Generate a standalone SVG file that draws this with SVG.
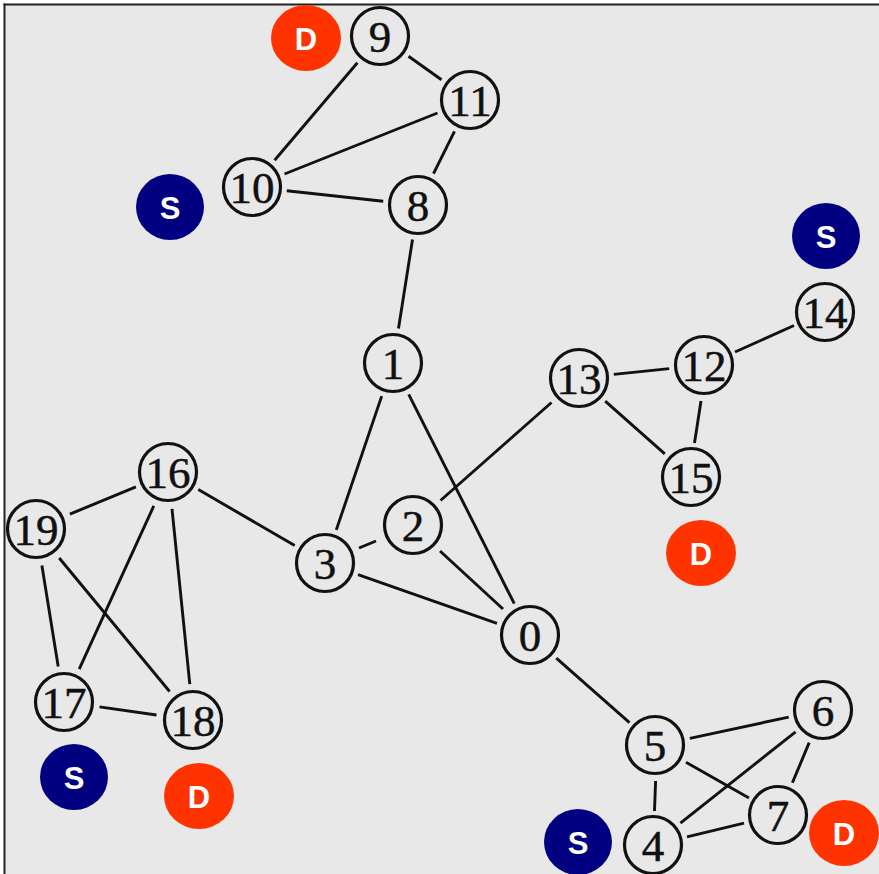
<svg xmlns="http://www.w3.org/2000/svg" width="879" height="874" viewBox="0 0 879 874">
  <style>
    .edge { stroke: #111111; stroke-width: 2.9; stroke-linecap: butt; fill: none; }
    .ring { fill: none; stroke: #111111; stroke-width: 3.2; }
    .num { font-family: "Liberation Serif", "Times New Roman", serif; font-size: 45px; fill: #111111; stroke: #111111; stroke-width: 0.5; text-anchor: middle; }
    .tag { font-family: "Liberation Sans", Arial, sans-serif; font-size: 31px; font-weight: bold; fill: #ffffff; text-anchor: middle; }
    .src { fill: #000080; }
    .dst { fill: #ff3300; }
  </style>

  <!-- canvas -->
  <rect x="0" y="0" width="879" height="874" fill="#ffffff"/>
  <rect x="4" y="4" width="875" height="870" fill="#e8e8e8"/>
  <line x1="3.5" y1="4.5" x2="879" y2="4.5" stroke="#222" stroke-width="2"/>
  <line x1="4.5" y1="3.5" x2="4.5" y2="874" stroke="#222" stroke-width="2"/>

  <!-- links -->
  <g id="edges">
    <line class="edge" x1="408.5" y1="56.3" x2="441.5" y2="79.7"/>
    <line class="edge" x1="357.4" y1="62.7" x2="274.6" y2="160.3"/>
    <line class="edge" x1="284.5" y1="174" x2="437.5" y2="113"/>
    <line class="edge" x1="286.8" y1="190.8" x2="383.2" y2="201.2"/>
    <line class="edge" x1="454.5" y1="131.4" x2="433.5" y2="173.6"/>
    <line class="edge" x1="412.5" y1="239.6" x2="398.5" y2="328.4"/>
    <line class="edge" x1="381.7" y1="396.1" x2="336.3" y2="529.9"/>
    <line class="edge" x1="408.7" y1="394.3" x2="514.3" y2="603.7"/>
    <line class="edge" x1="376" y1="541" x2="359" y2="548"/>
    <line class="edge" x1="440" y1="551" x2="503" y2="609"/>
    <line class="edge" x1="440.5" y1="500.5" x2="551.5" y2="402.5"/>
    <line class="edge" x1="358" y1="574.6" x2="497" y2="623.4"/>
    <line class="edge" x1="294.7" y1="545.5" x2="198.3" y2="489.5"/>
    <line class="edge" x1="613.8" y1="374.4" x2="669.2" y2="368.6"/>
    <line class="edge" x1="605.2" y1="401.2" x2="664.8" y2="453.8"/>
    <line class="edge" x1="701" y1="401" x2="694.5" y2="443"/>
    <line class="edge" x1="735" y1="352" x2="794" y2="325.5"/>
    <line class="edge" x1="135.9" y1="486.9" x2="69.9" y2="514.1"/>
    <line class="edge" x1="153.8" y1="505.9" x2="79.2" y2="669.1"/>
    <line class="edge" x1="172" y1="508.8" x2="189.8" y2="684.2"/>
    <line class="edge" x1="41.9" y1="565.5" x2="58.2" y2="666.5"/>
    <line class="edge" x1="59.2" y1="558" x2="169.6" y2="691.5"/>
    <line class="edge" x1="99.5" y1="706.9" x2="156.5" y2="715"/>
    <line class="edge" x1="556.3" y1="658.1" x2="629.5" y2="722.6"/>
    <line class="edge" x1="689.8" y1="738.4" x2="788.7" y2="717.1"/>
    <line class="edge" x1="686" y1="762.3" x2="749" y2="797.9"/>
    <line class="edge" x1="655.6" y1="781" x2="654.5" y2="811"/>
    <line class="edge" x1="680.4" y1="823.2" x2="795.6" y2="731.8"/>
    <line class="edge" x1="687" y1="836.8" x2="744" y2="823.2"/>
    <line class="edge" x1="809.2" y1="742.6" x2="792.4" y2="782.8"/>
  </g>

  <!-- numbered stations -->
  <g id="n0"><circle class="ring" cx="530" cy="635" r="28.5"/><text class="num" x="530" y="651">0</text></g>
  <g id="n1"><circle class="ring" cx="393" cy="363" r="28.5"/><text class="num" x="393" y="379">1</text></g>
  <g id="n2"><circle class="ring" cx="413" cy="525" r="28.5"/><text class="num" x="413" y="541">2</text></g>
  <g id="n3"><circle class="ring" cx="325" cy="563" r="28.5"/><text class="num" x="325" y="579">3</text></g>
  <g id="n4"><circle class="ring" cx="653" cy="845" r="28.5"/><text class="num" x="653" y="861">4</text></g>
  <g id="n5"><circle class="ring" cx="655" cy="745" r="28.5"/><text class="num" x="655" y="761">5</text></g>
  <g id="n6"><circle class="ring" cx="823" cy="710" r="28.5"/><text class="num" x="823" y="726">6</text></g>
  <g id="n7"><circle class="ring" cx="778" cy="815" r="28.5"/><text class="num" x="778" y="831">7</text></g>
  <g id="n8"><circle class="ring" cx="418" cy="205" r="28.5"/><text class="num" x="418" y="221">8</text></g>
  <g id="n9"><circle class="ring" cx="380" cy="36" r="28.5"/><text class="num" x="380" y="52">9</text></g>
  <g id="n10"><circle class="ring" cx="252" cy="187" r="28.5"/><text class="num" x="252" y="203">10</text></g>
  <g id="n11"><circle class="ring" cx="470" cy="100" r="28.5"/><text class="num" x="470" y="116">11</text></g>
  <g id="n12"><circle class="ring" cx="704" cy="365" r="28.5"/><text class="num" x="704" y="381">12</text></g>
  <g id="n13"><circle class="ring" cx="579" cy="378" r="28.5"/><text class="num" x="579" y="394">13</text></g>
  <g id="n14"><circle class="ring" cx="825" cy="312" r="28.5"/><text class="num" x="825" y="328">14</text></g>
  <g id="n15"><circle class="ring" cx="691" cy="477" r="28.5"/><text class="num" x="691" y="493">15</text></g>
  <g id="n16"><circle class="ring" cx="168" cy="472" r="28.5"/><text class="num" x="168" y="488">16</text></g>
  <g id="n17"><circle class="ring" cx="64" cy="702" r="28.5"/><text class="num" x="64" y="718">17</text></g>
  <g id="n18"><circle class="ring" cx="193" cy="720" r="28.5"/><text class="num" x="193" y="736">18</text></g>
  <g id="n19"><circle class="ring" cx="36" cy="529" r="28.5"/><text class="num" x="36" y="545">19</text></g>

  <!-- source / destination badges -->
  <g id="s-10"><ellipse class="src" cx="170" cy="207" rx="34" ry="33"/><text class="tag" x="170" y="218.5">S</text></g>
  <g id="s-14"><ellipse class="src" cx="826" cy="236" rx="34" ry="33"/><text class="tag" x="826" y="247.5">S</text></g>
  <g id="s-17"><ellipse class="src" cx="74" cy="777" rx="34" ry="33"/><text class="tag" x="74" y="788.5">S</text></g>
  <g id="s-4"><ellipse class="src" cx="578" cy="842" rx="34" ry="33"/><text class="tag" x="578" y="853.5">S</text></g>
  <g id="d-9"><ellipse class="dst" cx="306" cy="38" rx="35" ry="33"/><text class="tag" x="306" y="49.5">D</text></g>
  <g id="d-15"><ellipse class="dst" cx="701" cy="553" rx="35" ry="33"/><text class="tag" x="701" y="564.5">D</text></g>
  <g id="d-18"><ellipse class="dst" cx="199" cy="796" rx="35" ry="33"/><text class="tag" x="199" y="807.5">D</text></g>
  <g id="d-7"><ellipse class="dst" cx="844" cy="833" rx="35" ry="33"/><text class="tag" x="844" y="844.5">D</text></g>
</svg>
